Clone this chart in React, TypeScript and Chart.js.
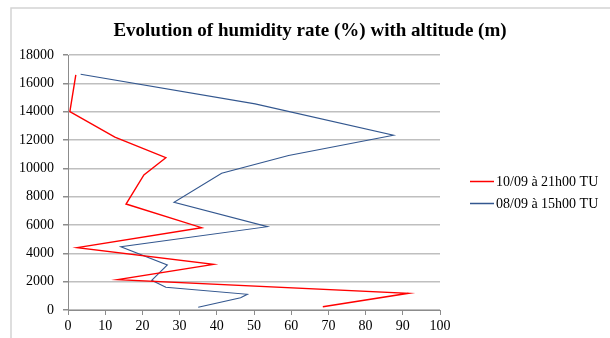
import React, { useEffect, useRef } from "react";
import { Chart, registerables } from "chart.js";

Chart.register(...registerables);

const TITLE = "Evolution of humidity rate (%) with altitude (m)";

const SERIES_LABELS = ["10/09 à 21h00 TU", "08/09 à 15h00 TU"];
const SERIES_COLORS = ["#ff0000", "#33578f"];

// 10/09 à 21h00 TU
const redHumidity = [2.1, 0.5, 12.6, 26.3, 20.4, 15.6, 35.9, 2.5, 39.1, 13.4, 91.5, 68.5];
const redAltitude = [16600, 14000, 12200, 10750, 9530, 7480, 5810, 4400, 3220, 2140, 1180, 230];

// 08/09 à 15h00 TU
const blueHumidity = [3.4, 50.3, 87.5, 59.3, 41.3, 28.5, 53.6, 14.2, 26.7, 22.5, 26.3, 48.2, 46.4, 35.0];
const blueAltitude = [16640, 14550, 12330, 10900, 9650, 7600, 5880, 4470, 3180, 2100, 1600, 1110, 870, 190];

const X_MIN = 0;
const X_MAX = 100;
const X_STEP = 10;
const Y_MIN = 0;
const Y_MAX = 18000;
const Y_STEP = 2000;

const FONT = "'Liberation Serif', 'Times New Roman', serif";

function toPoints(xs: number[], ys: number[]) {
  return xs.map((x, i) => ({ x, y: ys[i] }));
}

const decorPlugin = {
  id: "decor",
  beforeDraw(chart: any) {
    const ctx = chart.ctx;
    ctx.save();
    ctx.strokeStyle = "#d4d4d4";
    ctx.lineWidth = 1.5;
    ctx.strokeRect(11, 8, 700, 400);
    ctx.restore();
  },
  afterDraw(chart: any) {
    const ctx = chart.ctx;
    ctx.save();
    ctx.fillStyle = "#000";
    ctx.font = `bold 19px ${FONT}`;
    ctx.textAlign = "center";
    ctx.textBaseline = "middle";
    ctx.fillText(TITLE, 310, 31);

    ctx.font = `14px ${FONT}`;
    ctx.textAlign = "left";
    const ys = [181.5, 203.5];
    chart.data.datasets.forEach((ds: any, i: number) => {
      const y = ys[i];
      ctx.strokeStyle = ds.borderColor;
      ctx.lineWidth = 1.5;
      ctx.beginPath();
      ctx.moveTo(470, y);
      ctx.lineTo(494, y);
      ctx.stroke();
      ctx.fillStyle = "#000";
      ctx.fillText(ds.label, 496, y + 1);
    });
    ctx.restore();
  },
};

export default function App() {
  const canvasRef = useRef<HTMLCanvasElement | null>(null);

  useEffect(() => {
    document.body.style.margin = "0";
    const canvas = canvasRef.current;
    if (!canvas) return;
    const chart = new Chart(canvas, {
      type: "scatter",
      data: {
        datasets: [
          {
            label: SERIES_LABELS[0],
            data: toPoints(redHumidity, redAltitude),
            borderColor: SERIES_COLORS[0],
            backgroundColor: SERIES_COLORS[0],
            borderWidth: 1.4,
            showLine: true,
            pointRadius: 0,
            tension: 0,
          },
          {
            label: SERIES_LABELS[1],
            data: toPoints(blueHumidity, blueAltitude),
            borderColor: SERIES_COLORS[1],
            backgroundColor: SERIES_COLORS[1],
            borderWidth: 1.1,
            showLine: true,
            pointRadius: 0,
            tension: 0,
          },
        ],
      },
      options: {
        responsive: false,
        animation: false,
        layout: { padding: { left: 10, right: 170, top: 55, bottom: 0 } },
        plugins: {
          legend: { display: false },
          title: { display: false },
          tooltip: { enabled: false },
        },
        scales: {
          x: {
            type: "linear",
            min: X_MIN,
            max: X_MAX,
            afterFit: (scale: any) => {
              scale.height = 28;
            },
            ticks: {
              stepSize: X_STEP,
              color: "#000",
              font: { family: FONT, size: 14 },
              padding: 3,
              maxRotation: 0,
              callback: (v: any) => String(v),
            },
            grid: {
              drawOnChartArea: false,
              drawTicks: true,
              tickLength: 5,
              tickColor: "#8c8c8c",
              color: "#8c8c8c",
            },
            border: { display: true, color: "#8c8c8c", width: 1 },
          },
          y: {
            type: "linear",
            min: Y_MIN,
            max: Y_MAX,
            afterFit: (scale: any) => {
              scale.width = 58;
            },
            ticks: {
              stepSize: Y_STEP,
              color: "#000",
              font: { family: FONT, size: 14 },
              padding: 9,
              callback: (v: any) => String(v),
            },
            grid: {
              color: "#bfbfbf",
              lineWidth: 1.5,
              drawTicks: true,
              tickLength: 5,
              tickColor: "#8c8c8c",
            },
            border: { display: true, color: "#8c8c8c", width: 1 },
          },
        },
      },
      plugins: [decorPlugin],
    } as any);
    return () => chart.destroy();
  }, []);

  return <canvas ref={canvasRef} width={610} height={338} style={{ display: "block" }} />;
}
